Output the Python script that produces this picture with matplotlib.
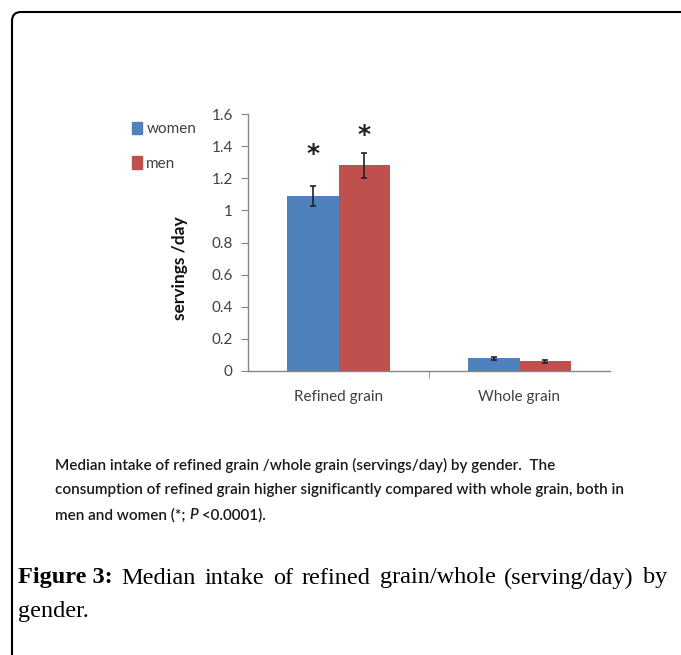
import matplotlib.pyplot as plt
from matplotlib.patches import FancyBboxPatch
from matplotlib.transforms import IdentityTransform
import numpy as np

categories = ["Refined grain", "Whole grain"]
women = [1.09, 0.08]
men = [1.28, 0.06]
women_err = [0.06, 0.01]
men_err = [0.08, 0.01]
series_names = ["women", "men"]
star_y = [1.35, 1.47]  # height of the "*" marks over refined grain
yticks = [0, 0.2, 0.4, 0.6, 0.8, 1.0, 1.2, 1.4, 1.6]
ytick_labels = ["0", "0.2", "0.4", "0.6", "0.8", "1", "1.2", "1.4", "1.6"]

W, H = 681, 655
blue = "#4F81BD"
red = "#C0504D"

fig = plt.figure(figsize=(W / 100, H / 100), dpi=100)
renderer = fig.canvas.get_renderer()

# outer frame, only the rounded top-left corner is visible
frame = FancyBboxPatch((12, -60), 760, H - 12 + 60,
                       boxstyle="round,pad=0,rounding_size=9",
                       transform=IdentityTransform(), fill=False,
                       edgecolor="black", linewidth=1.5)
fig.add_artist(frame)

# chart axes in pixel positions
left, right, top, bottom = 248, 610, 114, 371
ax = fig.add_axes([left / W, (H - bottom) / H, (right - left) / W, (bottom - top) / H])

x = np.arange(len(categories))
bw = 0.285
ekw = dict(ecolor="#222222", elinewidth=1.2, capsize=2.5, capthick=1.2)
ax.bar(x - bw / 2, women, bw, color=blue, yerr=women_err, error_kw=ekw)
ax.bar(x + bw / 2, men, bw, color=red, yerr=men_err, error_kw=ekw)

# significance stars on refined grain
ax.text(x[0] - bw / 2, star_y[0], "*", ha="center", va="center",
        fontsize=18, fontweight="bold", color="#222222")
ax.text(x[0] + bw / 2, star_y[1], "*", ha="center", va="center",
        fontsize=18, fontweight="bold", color="#222222")

ax.set_xlim(-0.5, 1.5)
ax.set_ylim(0, 1.6)
ax.set_yticks(yticks, labels=ytick_labels)
ax.set_xticks(x, labels=categories)
ax.set_xticks([0.5], minor=True)
ax.tick_params(axis="x", which="major", length=0, pad=14)
ax.tick_params(axis="x", which="minor", length=5, color="#868686", direction="out")
ax.tick_params(axis="y", length=5, color="#868686", pad=6)
for lab in ax.get_xticklabels() + ax.get_yticklabels():
    lab.set_fontfamily("Lato")
    lab.set_fontsize(11)
    lab.set_color("#404040")
for s in ["top", "right"]:
    ax.spines[s].set_visible(False)
for s in ["left", "bottom"]:
    ax.spines[s].set_color("#868686")
    ax.spines[s].set_linewidth(1.0)

ax.set_ylabel("servings /day", fontfamily="Lato", fontweight="bold", fontsize=12.5,
              color="#111111")
# label centre sits at x~188, y~268 px
ax.yaxis.set_label_coords((188 - left) / (right - left), (bottom - 268) / (bottom - top))

# legend at top-left of the chart block
handles = [plt.Rectangle((0, 0), 1, 1, color=blue), plt.Rectangle((0, 0), 1, 1, color=red)]
fig.legend(handles, series_names, loc="upper left", bbox_to_anchor=(118 / W, 1 - 108 / H),
           frameon=False, prop={"family": "Lato", "size": 11}, handlelength=0.65,
           handleheight=0.9, handletextpad=0.3, labelspacing=1.3, labelcolor="#404040")

# caption block under the chart
cap_kw = dict(ha="left", va="center", fontfamily="Lato", fontsize=11.0,
              fontweight="semibold", color="#1a1a1a")
fig.text(55 / W, 1 - 465 / H,
         "Median intake of refined grain /whole grain (servings/day) by gender.  The", **cap_kw)
fig.text(55 / W, 1 - 490 / H,
         "consumption of refined grain higher significantly compared with whole grain, both in",
         **cap_kw)
t1 = fig.text(55 / W, 1 - 515 / H, "men and women (*; ", **cap_kw)
x_px = 55 + t1.get_window_extent(renderer).width
t2 = fig.text(x_px / W, 1 - 515 / H, "P", fontstyle="italic", **cap_kw)
x_px += t2.get_window_extent(renderer).width
fig.text(x_px / W, 1 - 515 / H, " <0.0001).", **cap_kw)

# figure legend line, justified between the margins
serif = dict(fontfamily="Liberation Serif", fontsize=17.5, va="center", ha="left")
words = [("Figure 3:", "bold"), ("Median", "normal"), ("intake", "normal"),
         ("of", "normal"), ("refined", "normal"), ("grain/whole", "normal"),
         ("(serving/day)", "normal"), ("by", "normal")]
arts = [fig.text(0, 1 - 578 / H, w, fontweight=fw, **serif) for w, fw in words]
widths = [a.get_window_extent(renderer).width for a in arts]
x0, x1 = 18, 667
gap = (x1 - x0 - sum(widths)) / (len(arts) - 1)
pos = x0
for a, w in zip(arts, widths):
    a.set_x(pos / W)
    pos += w + gap
fig.text(18 / W, 1 - 612 / H, "gender.", **serif)

fig.savefig("out.png", dpi=100)
